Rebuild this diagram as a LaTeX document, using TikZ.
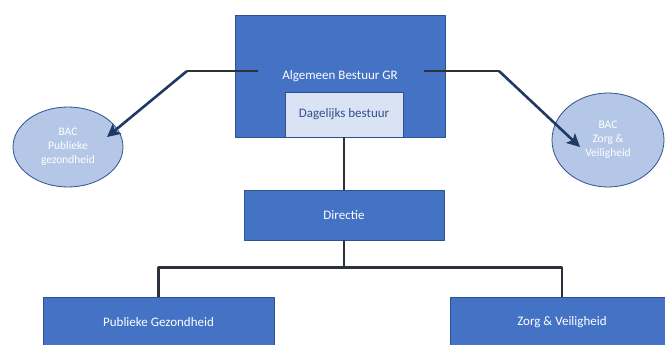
\documentclass[tikz,border=0pt]{standalone}
\usepackage{fontspec}
\setmainfont{Carlito}
\usetikzlibrary{arrows.meta}
\usetikzlibrary{shapes.geometric}
\definecolor{orgblue}{HTML}{4472C4}
\definecolor{orgedge}{HTML}{2F528F}
\definecolor{lightblue}{HTML}{DAE3F3}
\definecolor{bacfill}{HTML}{B4C7E7}
\definecolor{arrowcol}{HTML}{203864}
\definecolor{treecol}{HTML}{2B323C}

\begin{document}
\begin{tikzpicture}[x=1pt,y=-1pt,line join=round,
  box/.style={draw=orgedge,line width=0.8pt,fill=orgblue,text=white,inner sep=0pt,font=\fontsize{13}{15}\selectfont},
  dbbox/.style={draw=orgedge,line width=0.8pt,fill=lightblue,text=orgedge,inner sep=0pt,font=\fontsize{13}{15}\selectfont},
  bac/.style={ellipse,draw=orgedge,line width=0.8pt,fill=bacfill,text=white,inner sep=0pt,align=center,font=\fontsize{11.5}{14}\selectfont},
  arrowline/.style={draw=arrowcol,line width=2.6pt,-{Stealth[length=13pt,width=13pt,inset=3pt]}},
  treeline/.style={draw=treecol,line width=2.2pt}]
\useasboundingbox (0,0) rectangle (665,345);
\clip (0,0) rectangle (665,345);
% boxes
\node [box,minimum width=210pt,minimum height=122pt] (ab) at (340,76) {Algemeen Bestuur GR};
\node [dbbox,minimum width=118pt,minimum height=45pt] (db) at (344,114.5) {Dagelijks bestuur};
\node [box,minimum width=200pt,minimum height=50pt] (dir) at (344,215) {Directie};
\node [box,minimum width=231pt,minimum height=50pt] (pg) at (158.5,322) {Publieke Gezondheid};
\node [box,minimum width=224pt,minimum height=50pt] (zv) at (562,322) {Zorg \& Veiligheid};
% BAC ellipses
\node [bac,minimum width=110pt,minimum height=80pt] (bacpg) at (68,147) {BAC\\Publieke\\gezondheid};
\node [bac,minimum width=112pt,minimum height=94pt] (baczv) at (608,140) {BAC\\Zorg \&\\Veiligheid};
% arrows to BAC
\coordinate (lk) at (187,71);
\coordinate (lt) at (107,137);
\coordinate (rk) at (499,71);
\coordinate (rt) at (580,147);
\draw [arrowline] (lk) -- (lt);
\draw [arrowline] (rk) -- (rt);
\draw [treeline] ([xshift=23pt,yshift=5pt]ab.west) -- (lk);
\draw [treeline] ([xshift=-21pt,yshift=5pt]ab.east) -- (rk);
% tree
\draw [treeline] (db.south) -- (dir.north);
\draw [treeline] (dir.south) -- ++(0,27) coordinate (split) -| (pg.north);
\draw [treeline] (split) -| (zv.north);
\end{tikzpicture}
\end{document}
